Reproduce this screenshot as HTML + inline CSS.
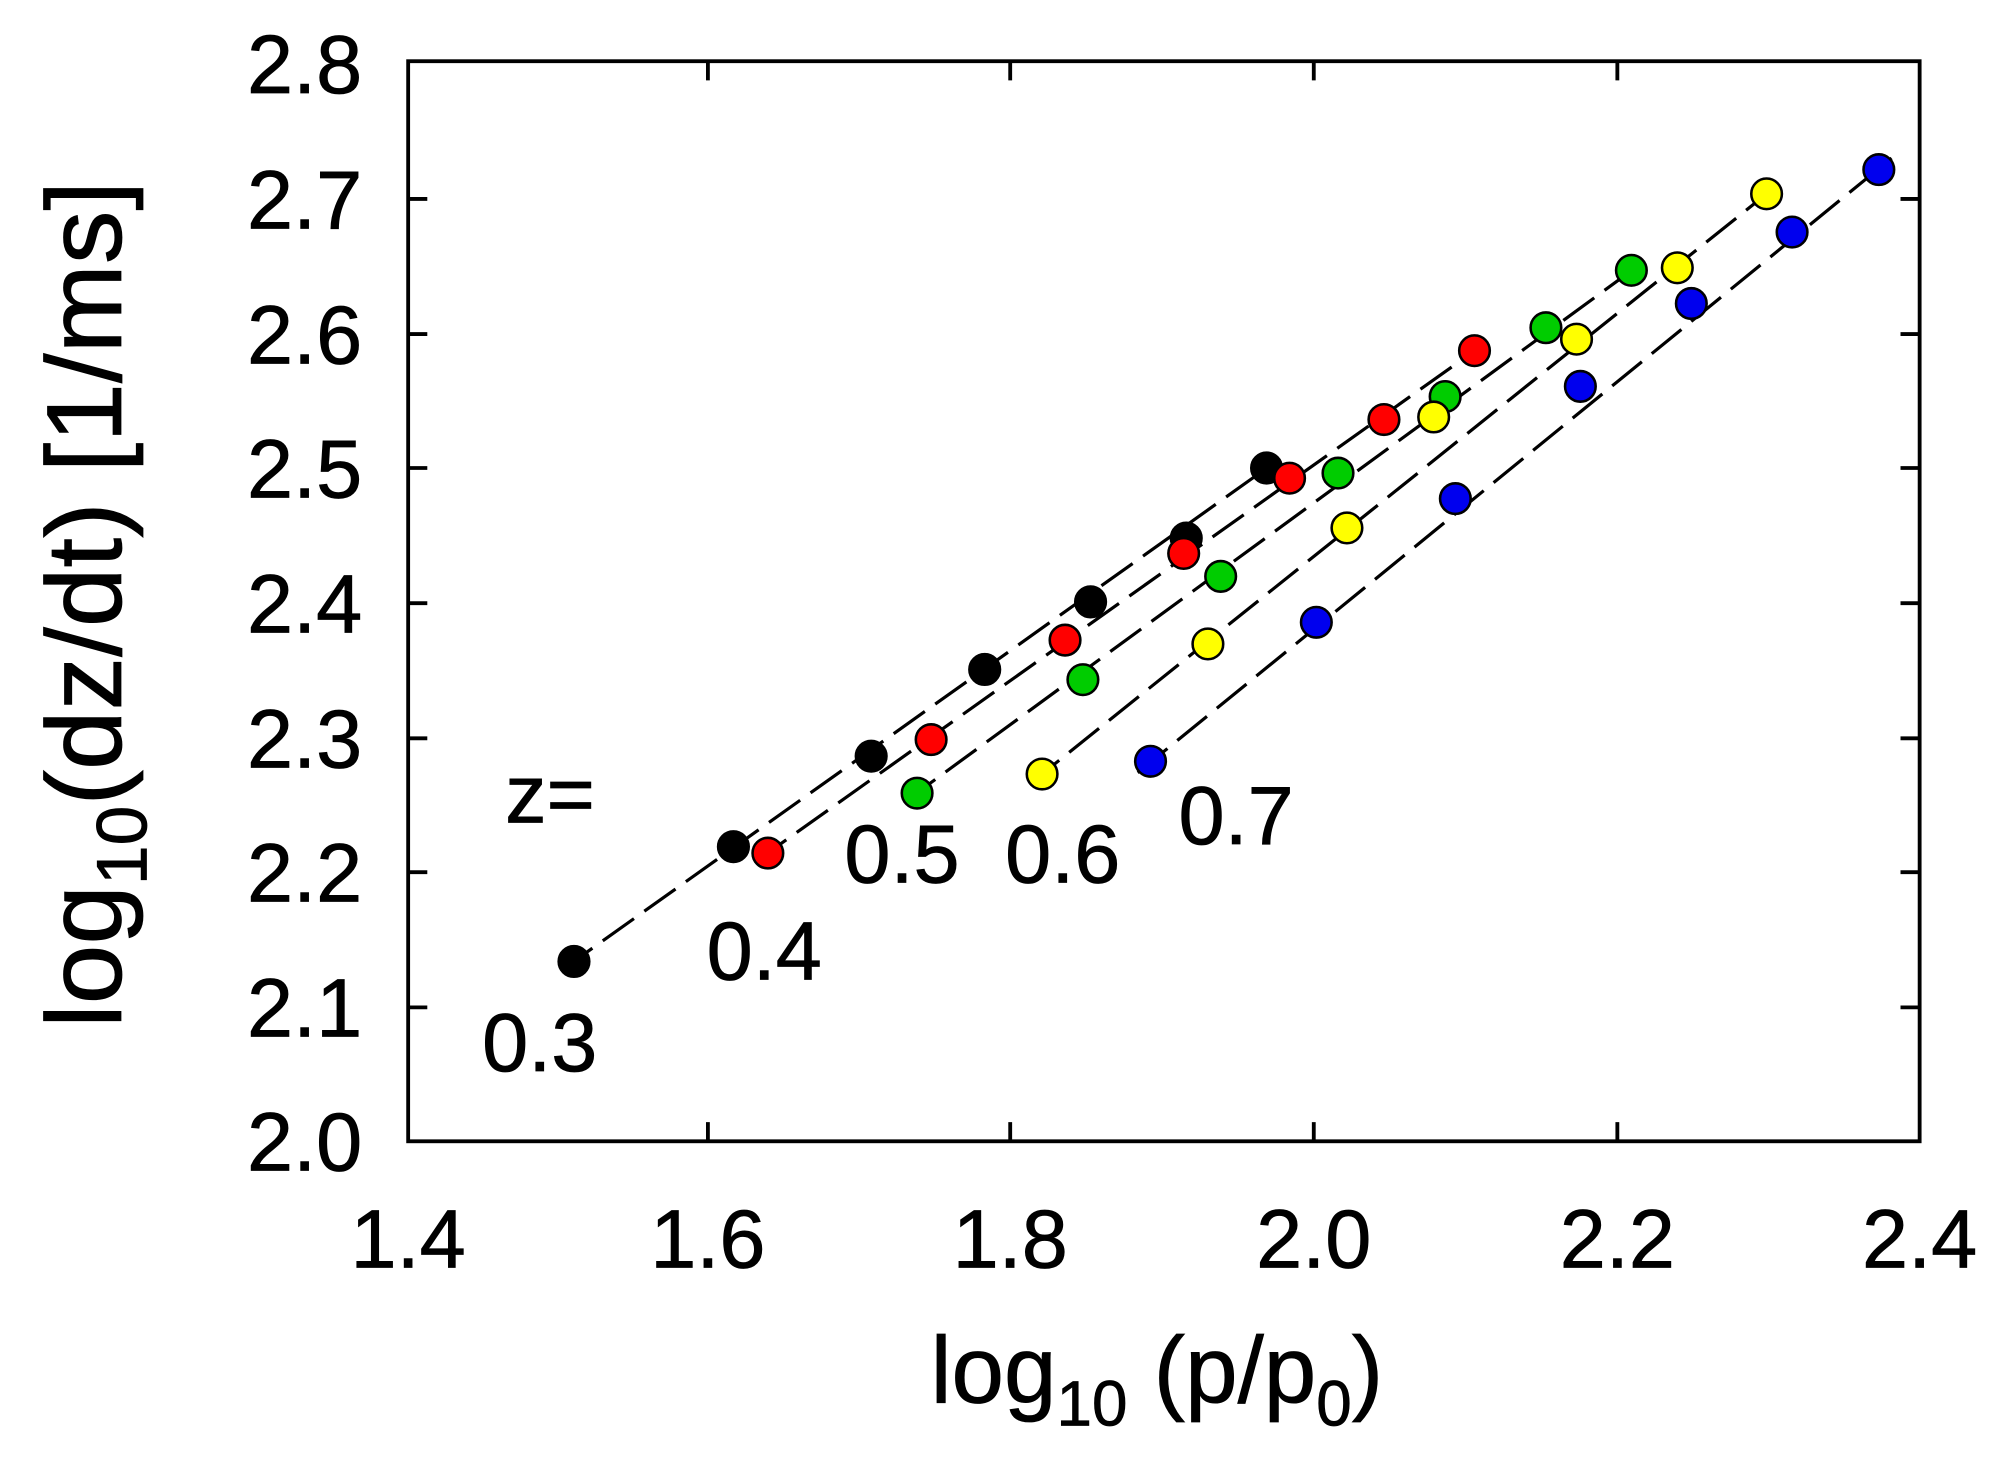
<!DOCTYPE html>
<html><head><style>html,body{margin:0;padding:0;background:#fff}svg{display:block}</style></head><body>
<svg width="2000" height="1469" viewBox="0 0 1568 1152" preserveAspectRatio="none" xmlns="http://www.w3.org/2000/svg" font-family="Liberation Sans, Arial, sans-serif">
<rect x="0" y="0" width="1568" height="1152" fill="#fff"/>
<g stroke="#000" stroke-width="3" fill="none">
<rect x="320" y="48" width="1185" height="847"/>
<path d="M555 895v-15M792 895v-15M1030 895v-15M1268 895v-15M555 48v15M792 48v15M1030 48v15M1268 48v15
M320 790h15M320 684h15M320 579h15M320 473h15M320 367h15M320 262h15M320 156h15
M1505 790h-15M1505 684h-15M1505 579h-15M1505 473h-15M1505 367h-15M1505 262h-15M1505 156h-15"/>
</g>
<g font-size="65" text-anchor="end" fill="#000" stroke="#000" stroke-width="0.6">
<text x="284" y="918">2.0</text><text x="284" y="813">2.1</text><text x="284" y="707">2.2</text><text x="284" y="602">2.3</text><text x="284" y="496">2.4</text><text x="284" y="390">2.5</text><text x="284" y="285">2.6</text><text x="284" y="179">2.7</text><text x="284" y="73">2.8</text>
</g>
<g font-size="65" text-anchor="middle" fill="#000" stroke="#000" stroke-width="0.6">
<text x="320" y="994">1.4</text><text x="555" y="994">1.6</text><text x="792" y="994">1.8</text><text x="1030" y="994">2.0</text><text x="1268" y="994">2.2</text><text x="1505" y="994">2.4</text>
</g>
<text x="907" y="1100" font-size="74" text-anchor="middle" stroke="#000" stroke-width="0.6">log<tspan font-size="50" dy="18">10</tspan><tspan dy="-18"> (p/p</tspan><tspan font-size="50" dy="18">0</tspan><tspan dy="-18">)</tspan></text>
<text transform="translate(95,474) rotate(-90)" font-size="84" text-anchor="middle" stroke="#000" stroke-width="0.6">log<tspan font-size="56" dy="20">10</tspan><tspan dy="-20">(dz/dt) [1/ms]</tspan></text>
<g font-size="65" fill="#000" stroke="#000" stroke-width="0.6">
<text x="396" y="645">z=</text><text x="378" y="840">0.3</text><text x="554" y="768">0.4</text><text x="662" y="692">0.5</text><text x="788" y="692">0.6</text><text x="924" y="662">0.7</text>
</g>
<g stroke="#000" stroke-width="2.5" fill="none" stroke-dasharray="30,10">
<line x1="440" y1="761" x2="1003" y2="360"/>
<line x1="592" y1="676" x2="1166" y2="268"/>
<line x1="709" y1="629" x2="1289" y2="205"/>
<line x1="807" y1="615" x2="1395" y2="144"/>
<line x1="892" y1="606" x2="1483" y2="124"/>
</g>
<g stroke="#000" stroke-width="2">
<g fill="#000"><circle cx="450" cy="754" r="12"/><circle cx="575" cy="664" r="12"/><circle cx="683" cy="593" r="12"/><circle cx="772" cy="525" r="12"/><circle cx="855" cy="472" r="12"/><circle cx="930" cy="422" r="12"/><circle cx="993" cy="367" r="12"/></g>
<g fill="#f00"><circle cx="602" cy="669" r="12"/><circle cx="730" cy="580" r="12"/><circle cx="835" cy="502" r="12"/><circle cx="928" cy="434" r="12"/><circle cx="1011" cy="375" r="12"/><circle cx="1085" cy="329" r="12"/><circle cx="1156" cy="275" r="12"/></g>
<g fill="#0c0"><circle cx="719" cy="622" r="12"/><circle cx="849" cy="533" r="12"/><circle cx="957" cy="452" r="12"/><circle cx="1049" cy="371" r="12"/><circle cx="1133" cy="311" r="12"/><circle cx="1212" cy="257" r="12"/><circle cx="1279" cy="212" r="12"/></g>
<g fill="#ff0"><circle cx="817" cy="607" r="12"/><circle cx="947" cy="505" r="12"/><circle cx="1056" cy="414" r="12"/><circle cx="1124" cy="327" r="12"/><circle cx="1236" cy="266" r="12"/><circle cx="1315" cy="210" r="12"/><circle cx="1385" cy="152" r="12"/></g>
<g fill="#00e"><circle cx="902" cy="597" r="12"/><circle cx="1032" cy="488" r="12"/><circle cx="1141" cy="391" r="12"/><circle cx="1239" cy="303" r="12"/><circle cx="1326" cy="238" r="12"/><circle cx="1405" cy="182" r="12"/><circle cx="1473" cy="133" r="12"/></g>
</g>
</svg>
</body></html>
